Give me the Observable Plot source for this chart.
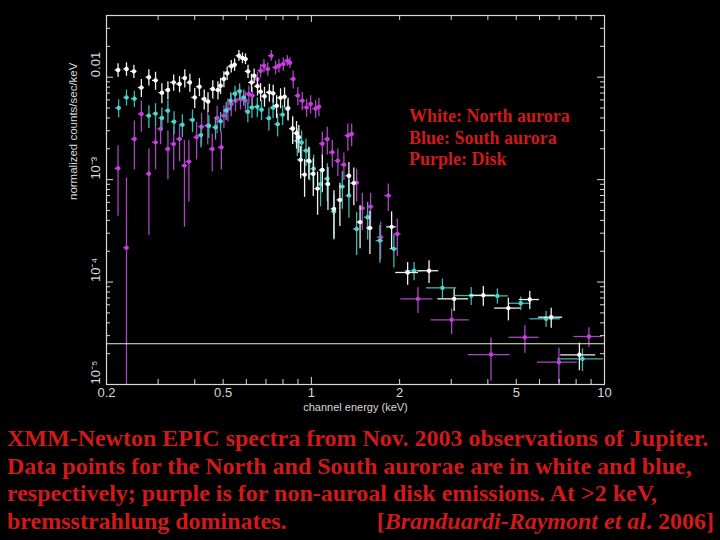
<!DOCTYPE html>
<html><head><meta charset="utf-8">
<script src="https://cdn.jsdelivr.net/npm/d3@7"></script>
<script src="https://cdn.jsdelivr.net/npm/@observablehq/plot@0.6"></script>
<style>
html,body{margin:0;padding:0;background:#000;}
body{width:720px;height:540px;overflow:hidden;position:relative;}
#chart{position:absolute;left:0;top:0;}
#legend{position:absolute;left:409px;top:106px;font:bold 18px "Liberation Serif",serif;color:#d01a1a;line-height:21.5px;white-space:nowrap;}
#caption{position:absolute;left:7px;top:425px;width:707px;font:bold 24px "Liberation Serif",serif;color:#d01a1a;line-height:27.7px;white-space:nowrap;}
#caption .row{display:flex;justify-content:space-between;}
</style></head><body>
<div id="chart"></div>
<div id="legend">White: North aurora<br>Blue: South aurora<br>Purple: Disk</div>
<div id="caption">
<div>XMM-Newton EPIC spectra from Nov. 2003 observations of Jupiter.</div>
<div>Data points for the North and South aurorae are in white and blue,</div>
<div>respectively; purple is for non-auroal disk emissions. At &gt;2 keV,</div>
<div class="row"><span>bremsstrahlung dominates.</span><span>[<i>Branduardi-Raymont et al</i>. 2006]</span></div>
</div>
<script>
// North aurora (white): energy keV, normalized counts/s/keV, relative error, bin half-width keV
const northE = [0.219,0.234,0.248,0.263,0.279,0.294,0.309,0.324,0.339,0.355,
  0.370,0.385,0.400,0.415,0.431,0.444,0.461,0.480,0.490,0.503,
  0.516,0.533,0.547,0.566,0.582,0.596,0.608,0.625,0.638,0.655,
  0.671,0.692,0.719,0.741,0.761,0.785,0.810,0.833,0.863,0.890,
  0.906,0.919,0.948,0.980,1.015,1.050,1.090,1.139,1.194,1.251,
  1.343,1.396,1.466,1.584,1.878,2.13,2.52,3.07,3.86,4.70,5.56,6.58,8.21];
const northC = [0.01175,0.01202,0.01140,0.00791,0.0100,0.00931,0.00706,0.00750,0.00889,0.00859,
  0.00982,0.00889,0.00635,0.00807,0.00613,0.00579,0.00767,0.00750,0.00826,0.00960,
  0.01094,0.01279,0.01324,0.01622,0.01538,0.01505,0.01140,0.00889,0.01035,0.00817,
  0.00722,0.00653,0.00711,0.00695,0.00527,0.00631,0.00645,0.00499,0.00315,0.00284,
  0.00259,0.00156,0.00112,0.00153,0.00114,0.000817,0.00124,0.000908,0.000518,0.000634,
  0.00109,0.000925,0.000385,0.000338,0.000346,0.000124,0.000129,0.0000686,0.0000743,0.0000557,0.0000675,0.0000454,0.0000195];
const northErr = [0.15,0.15,0.15,0.2,0.18,0.2,0.22,0.2,0.18,0.18,
  0.2,0.2,0.22,0.2,0.22,0.22,0.2,0.2,0.18,0.18,
  0.15,0.14,0.14,0.12,0.12,0.12,0.15,0.2,0.16,0.2,
  0.2,0.22,0.2,0.2,0.25,0.22,0.22,0.25,0.3,0.3,
  0.3,0.35,0.4,0.35,0.4,0.45,0.4,0.45,0.5,0.45,
  0.35,0.4,0.45,0.45,0.4,0.25,0.25,0.25,0.22,0.25,0.2,0.22,0.3];
const northHW = [0.005,0.005,0.006,0.006,0.006,0.007,0.007,0.007,0.008,0.008,
  0.008,0.008,0.009,0.009,0.009,0.01,0.01,0.01,0.01,0.011,
  0.011,0.012,0.012,0.012,0.013,0.013,0.013,0.014,0.014,0.014,
  0.015,0.015,0.016,0.016,0.017,0.017,0.018,0.018,0.019,0.02,
  0.02,0.02,0.021,0.022,0.022,0.023,0.024,0.025,0.026,0.028,
  0.03,0.032,0.034,0.04,0.07,0.19,0.20,0.37,0.38,0.48,0.44,0.62,1.12];

// South aurora (blue)
const southE = [0.220,0.234,0.249,0.279,0.294,0.309,0.324,0.340,0.363,0.393,
  0.420,0.447,0.471,0.490,0.512,0.530,0.549,0.569,0.588,0.607,
  0.627,0.654,0.676,0.716,0.740,0.767,0.798,0.830,0.863,0.895,
  0.926,0.959,0.986,1.018,1.075,1.133,1.194,1.275,1.343,1.427,
  1.556,1.713,1.912,2.24,2.80,3.51,4.31,5.18,6.32,8.41];
const southC = [0.00501,0.00635,0.00617,0.00421,0.00441,0.00400,0.00471,0.00368,0.00343,0.00383,
  0.00272,0.00336,0.00324,0.00371,0.00471,0.00590,0.00690,0.00730,0.00635,0.00460,
  0.00507,0.00515,0.00482,0.00398,0.00504,0.00348,0.00431,0.00488,0.00315,0.00240,
  0.00230,0.00192,0.00150,0.00128,0.000904,0.00102,0.000488,0.000855,0.000698,0.000330,
  0.000429,0.000254,0.000211,0.000129,0.0000878,0.0000738,0.0000733,0.0000621,0.0000438,0.0000178];
const southErr = [0.2,0.18,0.18,0.25,0.25,0.25,0.25,0.25,0.25,0.25,
  0.25,0.25,0.25,0.22,0.2,0.2,0.18,0.18,0.18,0.22,
  0.22,0.22,0.22,0.25,0.22,0.25,0.22,0.22,0.3,0.3,
  0.3,0.3,0.35,0.35,0.4,0.4,0.45,0.4,0.4,0.45,
  0.4,0.4,0.35,0.2,0.22,0.2,0.17,0.15,0.18,0.25];
const southHW = [0.005,0.005,0.006,0.006,0.006,0.007,0.007,0.008,0.008,0.009,
  0.009,0.01,0.01,0.01,0.011,0.011,0.012,0.012,0.013,0.013,
  0.014,0.014,0.015,0.015,0.016,0.017,0.017,0.018,0.019,0.02,
  0.02,0.021,0.022,0.022,0.024,0.025,0.026,0.03,0.03,0.035,
  0.04,0.05,0.06,0.15,0.33,0.41,0.39,0.45,0.75,1.5];

// Disk (purple)
const diskE = [0.219,0.234,0.249,0.263,0.279,0.294,0.306,0.324,0.339,0.355,
  0.369,0.382,0.406,0.422,0.443,0.459,0.477,0.493,0.503,0.519,
  0.533,0.551,0.573,0.596,0.612,0.629,0.654,0.671,0.689,0.710,
  0.730,0.755,0.775,0.802,0.828,0.845,0.867,0.899,0.931,0.963,
  0.994,1.034,1.061,1.090,1.133,1.179,1.231,1.291,1.332,1.372,
  1.427,1.492,1.592,1.723,1.830,1.964,2.31,3.01,4.10,5.35,6.99,8.85];
const diskC = [0.00129,0.000216,0.00249,0.00438,0.00114,0.00231,0.00313,0.00199,0.00223,0.00249,
  0.00137,0.00150,0.00259,0.00329,0.00336,0.00199,0.00400,0.00207,0.00421,0.00490,
  0.00548,0.00590,0.00613,0.00590,0.00685,0.00661,0.00960,0.01156,0.01294,0.01202,
  0.01622,0.01247,0.01294,0.01344,0.01449,0.01384,0.00960,0.00661,0.00590,0.00507,
  0.00548,0.00493,0.00515,0.00224,0.00249,0.00185,0.00153,0.00140,0.00269,0.00279,
  0.000935,0.000527,0.000545,0.000274,0.000698,0.000295,0.0000686,0.0000428,0.0000196,0.0000289,0.0000165,0.0000294];
const diskErr = [0.66,3.8,0.5,0.34,0.75,0.46,0.3,0.5,0.45,0.4,
  0.75,0.6,0.4,0.35,0.35,0.4,0.3,0.4,0.25,0.25,
  0.25,0.22,0.22,0.22,0.2,0.2,0.15,0.15,0.15,0.15,
  0.12,0.15,0.15,0.15,0.12,0.12,0.2,0.2,0.2,0.2,
  0.2,0.2,0.2,0.3,0.3,0.3,0.3,0.3,0.3,0.25,
  0.35,0.4,0.35,0.4,0.3,0.4,0.28,0.28,0.45,0.3,0.37,0.22];
const diskHW = [0.005,0.005,0.006,0.006,0.006,0.007,0.007,0.007,0.008,0.008,
  0.008,0.009,0.009,0.01,0.01,0.01,0.011,0.011,0.011,0.012,
  0.012,0.012,0.013,0.013,0.014,0.014,0.015,0.015,0.016,0.016,
  0.016,0.017,0.017,0.018,0.019,0.019,0.02,0.02,0.021,0.022,
  0.022,0.023,0.024,0.024,0.025,0.026,0.028,0.03,0.03,0.032,
  0.034,0.036,0.04,0.045,0.05,0.06,0.29,0.45,0.67,0.63,1.09,0.99];

const refLevel = [2.5e-5];
const xTickLabels = [0.2, 0.5, 1, 2, 5, 10];
const yTickLabels = [1e-5, 1e-4, 1e-3, 1e-2];
const yTickText = ["10\u207B\u2075", "10\u207B\u2074", "10\u207B\u00B3", "0.01"];
const xTitle = "channel energy (keV)";
const yTitle = "normalized counts/sec/keV";

function rows(E, C, err, hw) {
  return E.map((e, i) => {
    const lo = C[i] * (1 - err[i]);
    return {E: e, C: C[i], lo: lo > 0 ? lo : 1e-7, hi: C[i] * (1 + err[i]), xlo: e - hw[i], xhi: e + hw[i]};
  });
}
const north = rows(northE, northC, northErr, northHW);
const south = rows(southE, southC, southErr, southHW);
const disk = rows(diskE, diskC, diskErr, diskHW);

const W = 720, H = 420, ML = 106, MR = 116, MT = 15, MB = 36;
const FW = W - ML - MR, FH = H - MT - MB;

// tick positions (1..9 × decade)
const xMinor = [], yMinor = [];
for (const dec of [0.1, 1]) for (let m = 2; m <= 9; m++) { const v = +(m * dec).toPrecision(3); if (v > 0.2 && v < 10) xMinor.push(v); }
const xMajor = [1];
for (const dec of [1e-5, 1e-4, 1e-3, 1e-2]) for (let m = 2; m <= 9; m++) { const v = m * dec; if (v < 0.04) yMinor.push(v); }

function series(d, col, lineCol) {
  return [
    Plot.ruleX(d, {x: "E", y1: "lo", y2: "hi", stroke: lineCol, strokeWidth: 1.3, clip: true}),
    Plot.ruleY(d, {y: "C", x1: "xlo", x2: "xhi", stroke: lineCol, strokeWidth: 1.3, clip: true}),
    Plot.dot(d, {x: "E", y: "C", r: 2.2, fill: col, clip: true})
  ];
}
const tickCol = "#d8d8d8";
const chart = Plot.plot({
  width: W, height: H,
  marginLeft: ML, marginRight: MR, marginTop: MT, marginBottom: MB,
  style: {background: "#000", color: tickCol, fontFamily: "Liberation Sans, sans-serif"},
  x: {type: "log", domain: [0.2, 10], axis: null},
  y: {type: "log", domain: [1e-5, 0.04], axis: null},
  marks: [
    ...series(disk, "#c83ce0", "#a848c0"),
    ...series(south, "#4cd6cc", "#3cb8b0"),
    ...series(north, "#ffffff", "#f0f0f0"),
    Plot.ruleY(refLevel, {y: d => d, stroke: "#ececd8", strokeWidth: 1}),
    // inward ticks
    Plot.ruleY(yTickLabels, {y: d => d, insetRight: FW - 7, stroke: tickCol}),
    Plot.ruleY(yMinor, {y: d => d, insetRight: FW - 4, stroke: tickCol}),
    Plot.ruleY(yTickLabels, {y: d => d, insetLeft: FW - 7, stroke: tickCol}),
    Plot.ruleY(yMinor, {y: d => d, insetLeft: FW - 4, stroke: tickCol}),
    Plot.ruleX(xMajor, {x: d => d, insetTop: FH - 7, stroke: tickCol}),
    Plot.ruleX(xMinor, {x: d => d, insetTop: FH - 5, stroke: tickCol}),
    Plot.ruleX(xMajor, {x: d => d, insetBottom: FH - 7, stroke: tickCol}),
    Plot.ruleX(xMinor, {x: d => d, insetBottom: FH - 5, stroke: tickCol}),
    Plot.frame({stroke: tickCol, strokeWidth: 1.2}),
    // tick labels
    Plot.text(xTickLabels, {x: d => d, text: d => String(d), frameAnchor: "bottom", dy: 12, fill: tickCol, fontSize: 13}),
    Plot.text(yTickLabels, {y: d => d, text: (d, i) => yTickText[i], frameAnchor: "left", dx: -11, rotate: -90, fill: tickCol, fontSize: 13}),
    Plot.text([xTitle], {text: d => d, frameAnchor: "bottom", dy: 26, fill: tickCol, fontSize: 11}),
    Plot.text([yTitle], {text: d => d, frameAnchor: "left", dx: -33, rotate: -90, fill: tickCol, fontSize: 11.5})
  ]
});
document.getElementById("chart").appendChild(chart);
</script>
</body></html>
